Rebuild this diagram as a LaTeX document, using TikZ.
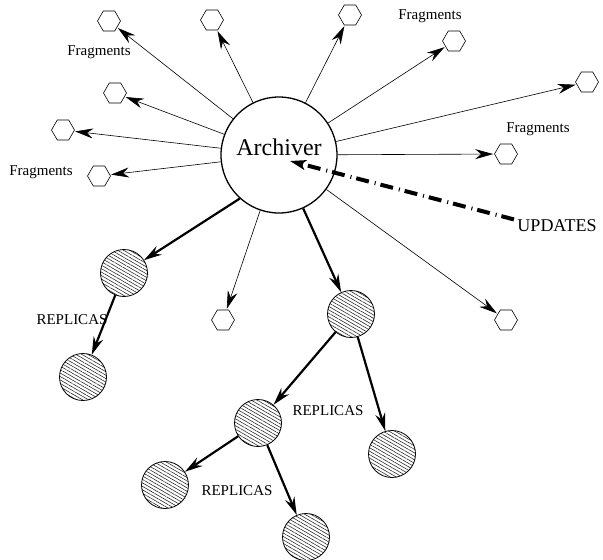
\documentclass[tikz,border=0pt]{standalone}
\usepackage{fontspec}
\setmainfont{Liberation Serif}
\usetikzlibrary{arrows.meta, patterns.meta, shapes.geometric}

\begin{document}
\begin{tikzpicture}[x=1pt, y=-1pt,
  frag/.style={draw, regular polygon, regular polygon sides=6, minimum size=23pt, inner sep=0pt, line width=0.6pt},
  replica/.style={draw, circle, minimum size=47pt, inner sep=0pt, line width=0.8pt, pattern={Lines[angle=-30, distance=3pt, line width=0.45pt]}},
  send/.style={line width=0.6pt, -{Stealth[length=18pt, width=10pt, inset=6pt]}, shorten >=1pt},
  copy/.style={line width=2.2pt, -{Stealth[length=18pt, width=10pt, inset=6pt]}},
  lbl/.style={font=\fontsize{15}{18}\selectfont}]
\useasboundingbox (0,0) rectangle (603,560);

\node[draw, circle, minimum size=116pt, inner sep=0pt, line width=1.3pt] (arch) at (279,155) {};
\node[anchor=base, font=\fontsize{24}{28}\selectfont] (archlbl) at (arch.center) {Archiver};

\node[frag] (h1) at (109,21) {};
\node[frag] (h2) at (212,20) {};
\node[frag] (h3) at (350,15) {};
\node[frag] (h4) at (454,41) {};
\node[frag] (h5) at (587,82) {};
\node[frag] (h6) at (115,93) {};
\node[frag] (h7) at (63,130) {};
\node[frag] (h8) at (99,176) {};
\node[frag] (h9) at (506,154) {};
\node[frag] (h10) at (223,320) {};
\node[frag] (h11) at (506,320) {};

\foreach \h in {1,...,11}
  \draw[send] (arch) -- (h\h);

\node[replica] (r1) at (124,273) {};
\node[replica] (r2) at (83,377) {};
\node[replica] (r3) at (351,314) {};
\node[replica] (r4) at (258,423) {};
\node[replica] (r5) at (392,454) {};
\node[replica] (r6) at (165,485) {};
\node[replica] (r7) at (306,537) {};

\draw[copy] (arch.228) -- (r1);
\draw[copy] (arch) -- (r3);
\draw[copy] (r1) -- (r2);
\draw[copy] (r3) -- (r4);
\draw[copy] (r3) -- (r5);
\draw[copy] (r4) -- (r6);
\draw[copy] (r4) -- (r7);

\node[lbl] (fr1) at (99,52) {Fragments};
\node[lbl] (fr2) at (41,172) {Fragments};
\node[lbl] (fr3) at (430,16) {Fragments};
\node[lbl] (fr4) at (538,129) {Fragments};

\node[lbl] (rep1) at (72,320) {REPLICAS};
\node[lbl] (rep2) at (328,411) {REPLICAS};
\node[lbl] (rep3) at (237,491) {REPLICAS};

\node[font=\fontsize{18}{21}\selectfont] (upd) at (557,226) {UPDATES};
\coordinate (updtip) at (290,161);
\draw[line width=4pt, dash pattern=on 13pt off 5pt on 1pt off 6pt, -{Stealth[length=16pt, width=10pt, inset=4pt]}]
  ([yshift=-3pt]upd.north west) -- (updtip);
\end{tikzpicture}
\end{document}
